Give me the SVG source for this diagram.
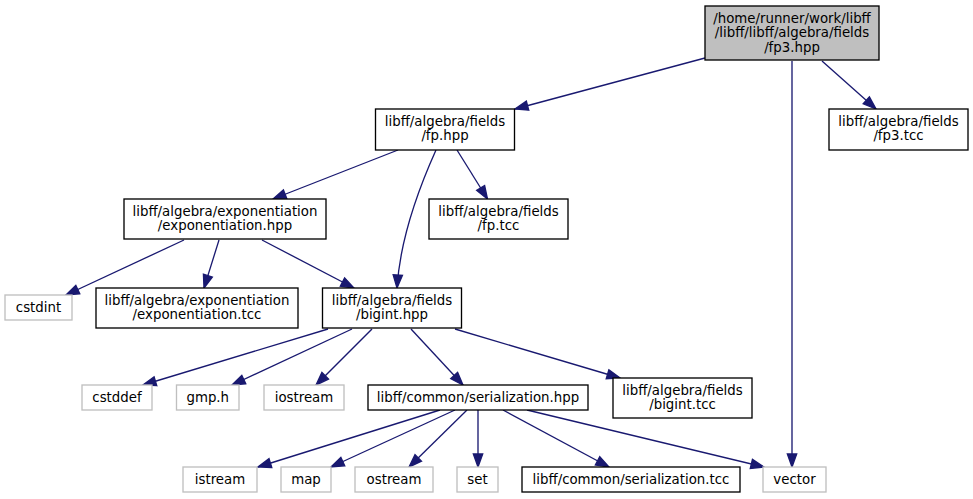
<svg xmlns="http://www.w3.org/2000/svg" width="973" height="499" viewBox="0 0 973 499">
<style>
text{font-family:"DejaVu Sans","Liberation Sans",sans-serif;font-size:13.33px;text-anchor:middle;fill:#000}
.n rect{fill:#fff;stroke:#000;stroke-width:1.33}
.x rect{fill:#fff;stroke:#bfbfbf;stroke-width:1.33}
.root rect{fill:#bfbfbf;stroke:#000;stroke-width:1.33}
#edges path{fill:none;stroke:#191970;stroke-width:1.33;marker-end:url(#arr)}
</style>
<defs>
<marker id="arr" markerUnits="userSpaceOnUse" markerWidth="14" markerHeight="10" refX="13" refY="4.67" orient="auto" overflow="visible">
<path d="M0,0 L13,4.67 L0,9.33 z" fill="#191970" stroke="#191970" stroke-width="1.33"/>
</marker>
</defs>
<rect width="973" height="499" fill="#fff"/>
<g id="edges">
<path d="M705,58 L515,109"/>
<path d="M792,61 L792,467"/>
<path d="M822,61 L876,109"/>
<path d="M398,150 L273,199"/>
<path d="M436,150 C418,190 400,240 397,288"/>
<path d="M457,150 L487.5,199"/>
<path d="M184,240 L66,295"/>
<path d="M219,240 L204,288"/>
<path d="M262,240 L354,288"/>
<path d="M328,329 L143,385"/>
<path d="M352,329 L232,385"/>
<path d="M372,329 L316,385"/>
<path d="M411,329 L463,385"/>
<path d="M455,329 L620,378"/>
<path d="M440,410 L258,467"/>
<path d="M455,410 L331,467"/>
<path d="M467,410 L409,467"/>
<path d="M478,410 L478,467"/>
<path d="M503,410 L609,467"/>
<path d="M527,410 L764,467"/>
</g>
<g id="fp3_hpp" class="root"><rect x="705" y="6" width="174" height="54"/><text x="792" y="22.5">/home/runner/work/libff</text><text x="792" y="37">/libff/libff/algebra/fields</text><text x="792" y="51.5">/fp3.hpp</text></g>
<g id="fp3_tcc" class="n"><rect x="829" y="109" width="139" height="41"/><text x="898.5" y="125.5">libff/algebra/fields</text><text x="898.5" y="140">/fp3.tcc</text></g>
<g id="fp_hpp" class="n"><rect x="375.5" y="109" width="139" height="41"/><text x="445" y="125.5">libff/algebra/fields</text><text x="445" y="140">/fp.hpp</text></g>
<g id="fp_tcc" class="n"><rect x="429" y="199" width="139" height="40"/><text x="498.5" y="215.5">libff/algebra/fields</text><text x="498.5" y="230">/fp.tcc</text></g>
<g id="exp_hpp" class="n"><rect x="124" y="199" width="202" height="40"/><text x="225" y="215.5">libff/algebra/exponentiation</text><text x="225" y="230">/exponentiation.hpp</text></g>
<g id="cstdint" class="x"><rect x="5" y="295" width="67" height="25"/><text x="38.5" y="311.5">cstdint</text></g>
<g id="exp_tcc" class="n"><rect x="96" y="288" width="202" height="40"/><text x="197" y="304.5">libff/algebra/exponentiation</text><text x="197" y="319">/exponentiation.tcc</text></g>
<g id="bigint_hpp" class="n"><rect x="322.5" y="288" width="139" height="40"/><text x="392" y="304.5">libff/algebra/fields</text><text x="392" y="319">/bigint.hpp</text></g>
<g id="cstddef" class="x"><rect x="82" y="385" width="70" height="25"/><text x="117" y="401.5">cstddef</text></g>
<g id="gmp_h" class="x"><rect x="176.5" y="385" width="62.5" height="25"/><text x="207.75" y="401.5">gmp.h</text></g>
<g id="iostream" class="x"><rect x="264" y="385" width="80" height="25"/><text x="304" y="401.5">iostream</text></g>
<g id="ser_hpp" class="n"><rect x="368" y="385" width="220" height="25"/><text x="478" y="401.5">libff/common/serialization.hpp</text></g>
<g id="bigint_tcc" class="n"><rect x="613" y="378" width="139" height="40"/><text x="682.5" y="394.5">libff/algebra/fields</text><text x="682.5" y="409">/bigint.tcc</text></g>
<g id="istream" class="x"><rect x="183" y="467" width="74" height="25"/><text x="220" y="483.5">istream</text></g>
<g id="map" class="x"><rect x="281" y="467" width="50" height="25"/><text x="306" y="483.5">map</text></g>
<g id="ostream" class="x"><rect x="355" y="467" width="78" height="25"/><text x="394" y="483.5">ostream</text></g>
<g id="set" class="x"><rect x="457" y="467" width="41" height="25"/><text x="477.5" y="483.5">set</text></g>
<g id="ser_tcc" class="n"><rect x="522" y="467" width="218" height="25"/><text x="631" y="483.5">libff/common/serialization.tcc</text></g>
<g id="vector" class="x"><rect x="763" y="467" width="63" height="25"/><text x="794.5" y="483.5">vector</text></g>
</svg>
